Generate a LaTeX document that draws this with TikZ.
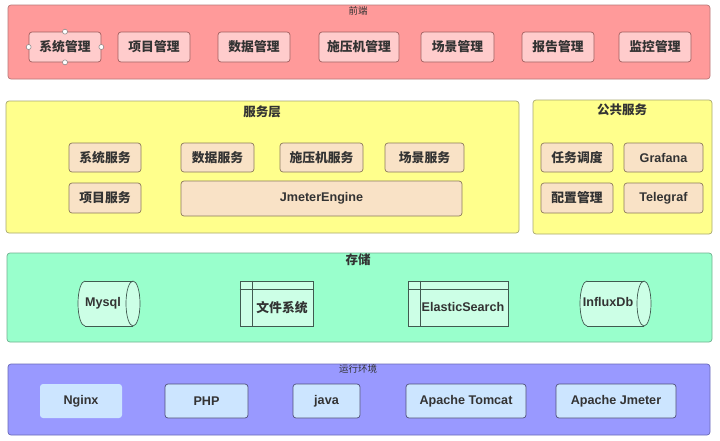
\documentclass[tikz,border=0pt]{standalone}
\usepackage{fontspec}
\setmainfont{Liberation Sans}
\newfontfamily\cjk{Noto Sans CJK SC}
\definecolor{pinkL}{HTML}{FF9A9A}
\definecolor{pinkLd}{HTML}{B87878}
\definecolor{pinkB}{HTML}{FFCCCC}
\definecolor{pinkBd}{HTML}{A06060}
\definecolor{yelL}{HTML}{FFFF8C}
\definecolor{yelLd}{HTML}{A8A870}
\definecolor{yelB}{HTML}{F9E2C6}
\definecolor{yelBd}{HTML}{8C7A5C}
\definecolor{grnL}{HTML}{99FFCC}
\definecolor{grnLd}{HTML}{70B090}
\definecolor{grnB}{HTML}{CCFFE6}
\definecolor{grnBd}{HTML}{405A50}
\definecolor{purL}{HTML}{9999FF}
\definecolor{purLd}{HTML}{6A6AB8}
\definecolor{purB}{HTML}{CCE5FF}
\definecolor{purBd}{HTML}{505078}
\definecolor{txt}{HTML}{333333}
\newcommand{\mycyl}[4]{%
  \pgfmathsetmacro\cya{(#3+#4)/2}%
  \pgfmathsetmacro\cyr{(#4-#3)/2}%
  \fill[grnB] (#1+7,#3) -- (#2-7,#3) -- (#2-7,#4) -- (#1+7,#4) -- cycle;
  \fill[grnB] (#1+7,\cya) ellipse (7 and \cyr);
  \fill[grnB] (#2-7,\cya) ellipse (7 and \cyr);
  \begin{scope}
    \clip (#1-2,#3-2) rectangle (#1+7,#4+2);
    \draw[grnBd,line width=0.7pt] (#1+7,\cya) ellipse (7 and \cyr);
  \end{scope}
  \draw[grnBd,line width=0.7pt] (#1+7,#3) -- (#2-7,#3);
  \draw[grnBd,line width=0.7pt] (#1+7,#4) -- (#2-7,#4);
  \draw[grnBd,line width=0.7pt] (#2-7,\cya) ellipse (7 and \cyr);
}
\begin{document}
\begin{tikzpicture}[x=1pt,y=-1pt,
  layer/.style={draw, line width=0.7pt, rounded corners=3pt, inner sep=0pt},
  fbox/.style={draw=pinkBd, fill=pinkB, line width=0.7pt, rounded corners=3pt, inner sep=0pt, minimum height=30pt, text=txt, font=\cjk\bfseries\fontsize{12.8}{14}\selectfont},
  sbox/.style={draw=yelBd, fill=yelB, line width=0.7pt, rounded corners=3pt, inner sep=0pt, text=txt, font=\cjk\bfseries\fontsize{12.8}{14}\selectfont},
  lat/.style={font=\bfseries\fontsize{12.6}{14}\selectfont},
  rbox/.style={draw=purBd, fill=purB, line width=0.7pt, rounded corners=3pt, inner sep=0pt, minimum height=34pt, text=txt, font=\bfseries\fontsize{12.6}{14}\selectfont},
  stbox/.style={draw=grnBd, fill=grnB, line width=0.7pt, inner sep=0pt},
  lbl/.style={text=txt, inner sep=0pt},
  ttl/.style={text=txt, inner sep=0pt, font=\cjk\fontsize{9.5}{11}\selectfont},
  ttlb/.style={text=txt, inner sep=0pt, font=\cjk\bfseries\fontsize{12.5}{14}\selectfont},
  handle/.style={circle, draw=gray, fill=white, line width=0.5pt, inner sep=0pt, minimum size=5pt}
]
\fill[white] (0,0) rectangle (720,440);
\useasboundingbox (0,0) rectangle (720,440);

% ---------- front end layer ----------
\node[layer, draw=pinkLd, fill=pinkL, minimum width=702pt, minimum height=74pt] (front) at (359,42) {};
\node[ttl] (tfront) at (358,11) {前端};
\node[fbox, minimum width=72pt] (f1) at (65,47) {系统管理};
\node[fbox, minimum width=72pt] (f2) at (154,47) {项目管理};
\node[fbox, minimum width=72pt] (f3) at (254,47) {数据管理};
\node[fbox, minimum width=80pt] (f4) at (359,47) {施压机管理};
\node[fbox, minimum width=73pt] (f5) at (457.5,47) {场景管理};
\node[fbox, minimum width=72pt] (f6) at (558,47) {报告管理};
\node[fbox, minimum width=72pt] (f7) at (655,47) {监控管理};
\node[handle] (h1) at (f1.north) {};
\node[handle] (h2) at (f1.south) {};
\node[handle] (h3) at (f1.west) {};
\node[handle] (h4) at (f1.east) {};

% ---------- service layer ----------
\node[layer, draw=yelLd, fill=yelL, minimum width=513pt, minimum height=132pt] (svc) at (262.5,167) {};
\node[ttlb] (tsvc) at (262,112) {服务层};
\node[sbox, minimum width=72pt, minimum height=29pt] (s1) at (105,157.5) {系统服务};
\node[sbox, minimum width=72pt, minimum height=30pt] (s2) at (105,198) {项目服务};
\node[sbox, minimum width=73pt, minimum height=29pt] (s3) at (217.5,157.5) {数据服务};
\node[sbox, minimum width=83pt, minimum height=29pt] (s4) at (321.5,157.5) {施压机服务};
\node[sbox, minimum width=79pt, minimum height=29pt] (s5) at (424.5,157.5) {场景服务};
\node[sbox, lat, minimum width=281pt, minimum height=35pt] (s6) at (321.5,198.5) {JmeterEngine};

% ---------- public services ----------
\node[layer, draw=yelLd, fill=yelL, minimum width=179pt, minimum height=134pt] (pub) at (622.5,167) {};
\node[ttlb] (tpub) at (622,110) {公共服务};
\node[sbox, minimum width=72pt, minimum height=29pt] (p1) at (577,157.5) {任务调度};
\node[sbox, lat, minimum width=79pt, minimum height=29pt] (p2) at (663.5,157.5) {Grafana};
\node[sbox, minimum width=72pt, minimum height=30pt] (p3) at (577,198) {配置管理};
\node[sbox, lat, minimum width=79pt, minimum height=30pt] (p4) at (663.5,198) {Telegraf};

% ---------- storage layer ----------
\node[layer, draw=grnLd, fill=grnL, minimum width=705pt, minimum height=89pt] (sto) at (359.5,297.5) {};
\node[ttlb] (tsto) at (358,260) {存储};
\mycyl{78}{140}{281}{326}
\node[lbl, lat] (mysql) at (103,303) {Mysql};
\node[stbox, minimum width=73pt, minimum height=45pt] (fs) at (276.5,303.5) {};
\draw[grnBd, line width=0.7pt] ([xshift=13pt]fs.north west) -- ([xshift=13pt]fs.south west);
\draw[grnBd, line width=0.7pt] ([yshift=-9pt]fs.north west) -- ([yshift=-9pt]fs.north east);
\node[lbl, font=\cjk\bfseries\fontsize{12.8}{14}\selectfont] (fsl) at (282,308) {文件系统};
\node[stbox, minimum width=100pt, minimum height=45pt] (es) at (458,303.5) {};
\draw[grnBd, line width=0.7pt] ([xshift=13pt]es.north west) -- ([xshift=13pt]es.south west);
\draw[grnBd, line width=0.7pt] ([yshift=-9pt]es.north west) -- ([yshift=-9pt]es.north east);
\node[lbl, lat] (esl) at (463,307) {ElasticSearch};
\mycyl{580}{651}{281}{326}
\node[lbl, lat] (influx) at (608,302) {InfluxDb};

% ---------- runtime layer ----------
\node[layer, draw=purLd, fill=purL, minimum width=702pt, minimum height=71pt] (run) at (359,399.5) {};
\node[ttl] (trun) at (358,369) {运行环境};
\node[rbox, draw=none, minimum width=82pt] (r1) at (81,401) {Nginx};
\node[rbox, minimum width=83pt] (r2) at (206.5,401) {PHP};
\node[rbox, minimum width=67pt] (r3) at (326.5,401) {java};
\node[rbox, minimum width=120pt] (r4) at (466,401) {Apache Tomcat};
\node[rbox, minimum width=120pt] (r5) at (616,401) {Apache Jmeter};
\end{tikzpicture}
\end{document}
